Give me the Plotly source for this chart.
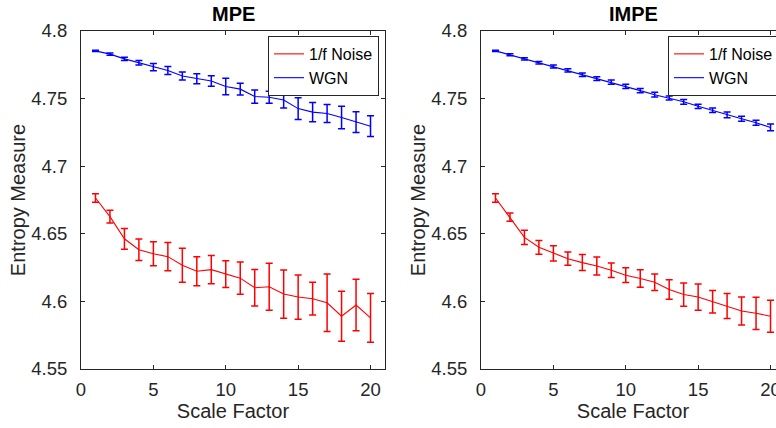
import plotly.graph_objects as go

scale = list(range(1, 21))

mpe_wgn = [4.7853, 4.7829, 4.7794, 4.7765, 4.7733, 4.7708, 4.7667, 4.7647, 4.7630, 4.7590,
           4.7570, 4.7515, 4.7510, 4.7490, 4.7426, 4.7400, 4.7390, 4.7360, 4.7326, 4.7296]
mpe_wgn_err = [0.0005, 0.0009, 0.0012, 0.0016, 0.0027, 0.0030, 0.0030, 0.0037, 0.0039, 0.0061,
               0.0043, 0.0049, 0.0044, 0.0060, 0.0081, 0.0071, 0.0067, 0.0083, 0.0077, 0.0077]
mpe_pink = [4.6765, 4.6627, 4.6463, 4.6382, 4.6353, 4.6331, 4.6267, 4.6223, 4.6235, 4.6201,
            4.6172, 4.6101, 4.6108, 4.6054, 4.6032, 4.6020, 4.5990, 4.5890, 4.5973, 4.5878]
mpe_pink_err = [0.0032, 0.0048, 0.0077, 0.0080, 0.0089, 0.0105, 0.0126, 0.0108, 0.0105, 0.0099,
                0.0120, 0.0135, 0.0174, 0.0179, 0.0164, 0.0121, 0.0213, 0.0185, 0.0191, 0.0181]

impe_wgn = [4.7853, 4.7824, 4.7794, 4.7765, 4.7738, 4.7708, 4.7676, 4.7647, 4.7622, 4.7590,
            4.7559, 4.7529, 4.7505, 4.7476, 4.7443, 4.7414, 4.7380, 4.7351, 4.7321, 4.7287]
impe_wgn_err = [0.0004, 0.0007, 0.0009, 0.0010, 0.0011, 0.0012, 0.0013, 0.0014, 0.0015, 0.0016,
                0.0016, 0.0018, 0.0015, 0.0017, 0.0016, 0.0017, 0.0021, 0.0019, 0.0018, 0.0025]
impe_pink = [4.6765, 4.6623, 4.6473, 4.6400, 4.6355, 4.6316, 4.6287, 4.6262, 4.6230, 4.6194,
             4.6169, 4.6142, 4.6088, 4.6051, 4.6032, 4.5998, 4.5966, 4.5929, 4.5912, 4.5890]
impe_pink_err = [0.0032, 0.0031, 0.0053, 0.0051, 0.0056, 0.0049, 0.0059, 0.0067, 0.0054, 0.0054,
                 0.0065, 0.0061, 0.0072, 0.0086, 0.0097, 0.0083, 0.0092, 0.0104, 0.0119, 0.0118]

titles = ["MPE", "IMPE"]
x_ticks = [0, 5, 10, 15, 20]
y_ticks = [4.55, 4.6, 4.65, 4.7, 4.75, 4.8]
y_ticktext = ["4.55", "4.6", "4.65", "4.7", "4.75", "4.8"]

RED = "rgb(255,0,0)"
BLUE = "rgb(0,0,255)"
AX = "#262626"
FONT = "Liberation Sans, Arial, sans-serif"

W, H = 800, 428
ML, MR, MT, MB = 81, 15, 31, 57
pw = W - ML - MR
ph = H - MT - MB
d1 = [0, (385 - ML) / pw]
d2 = [(481 - ML) / pw, 1]

fig = go.Figure()

panels = [
    (mpe_pink, mpe_pink_err, mpe_wgn, mpe_wgn_err, "x", "y", "legend"),
    (impe_pink, impe_pink_err, impe_wgn, impe_wgn_err, "x2", "y2", "legend2"),
]
for pink, perr, wgn, werr, xa, ya, lg in panels:
    fig.add_trace(go.Scatter(
        x=scale, y=pink, mode="lines", name="1/f Noise",
        line=dict(color=RED, width=1.1),
        error_y=dict(type="data", array=perr, visible=True, color=RED, thickness=1.5, width=3.5),
        xaxis=xa, yaxis=ya, legend=lg))
    fig.add_trace(go.Scatter(
        x=scale, y=wgn, mode="lines", name="WGN",
        line=dict(color=BLUE, width=1.1),
        error_y=dict(type="data", array=werr, visible=True, color=BLUE, thickness=1.5, width=3.5),
        xaxis=xa, yaxis=ya, legend=lg))

axis_common = dict(showgrid=False, zeroline=False, showline=True, linecolor=AX, linewidth=1,
                   mirror="ticks", ticks="inside", ticklen=4, tickcolor=AX,
                   tickfont=dict(family=FONT, size=18.5, color=AX))
xcommon = dict(axis_common, range=[0, 21], tickvals=x_ticks, ticklabelstandoff=4,
               title=dict(text="Scale Factor", font=dict(family=FONT, size=20, color=AX), standoff=2))
ycommon = dict(axis_common, range=[4.55, 4.8], tickvals=y_ticks, ticktext=y_ticktext,
               ticklabelstandoff=9,
               title=dict(text="Entropy Measure", font=dict(family=FONT, size=20, color=AX), standoff=0))

legend_common = dict(bgcolor="white", bordercolor=AX, borderwidth=1,
                     font=dict(family=FONT, size=16, color="black"),
                     xanchor="right", yanchor="top", tracegroupgap=0,
                     itemwidth=30)

fig.update_layout(
    width=W, height=H,
    margin=dict(l=ML, r=MR, t=MT, b=MB),
    paper_bgcolor="white", plot_bgcolor="white",
    xaxis=dict(xcommon, domain=d1, anchor="y"),
    yaxis=dict(ycommon, domain=[0, 1], anchor="x"),
    xaxis2=dict(xcommon, domain=d2, anchor="y2"),
    yaxis2=dict(ycommon, domain=[0, 1], anchor="x2"),
    legend=dict(legend_common, x=(379 - ML) / pw, y=1 - 5 / ph),
    legend2=dict(legend_common, x=(779 - ML) / pw, y=1 - 5 / ph),
    annotations=[
        dict(text="<b>%s</b>" % titles[0], x=sum(d1) / 2, y=1, xref="paper", yref="paper",
             xanchor="center", yanchor="bottom", yshift=4, showarrow=False,
             font=dict(family=FONT, size=20, color="black")),
        dict(text="<b>%s</b>" % titles[1], x=sum(d2) / 2, y=1, xref="paper", yref="paper",
             xanchor="center", yanchor="bottom", yshift=4, showarrow=False,
             font=dict(family=FONT, size=20, color="black")),
    ],
)

fig.write_html("out.html", post_script="document.body.style.margin='0';document.body.style.overflow='hidden';")
